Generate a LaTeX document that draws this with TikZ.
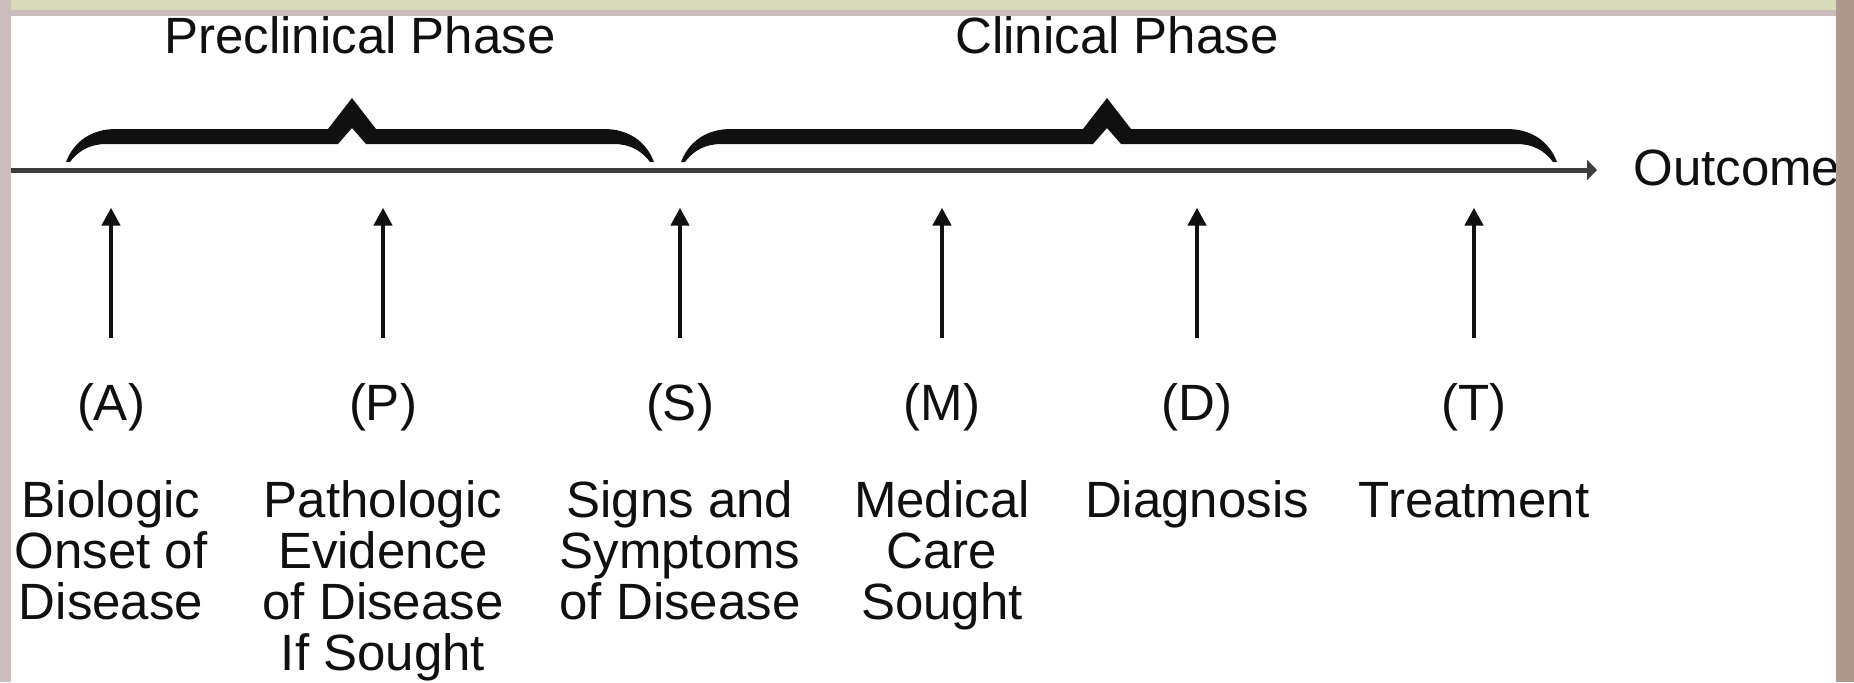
\documentclass[tikz,border=0pt]{standalone}
\usepackage{fontspec}
\setmainfont{Liberation Sans}
\usepackage{tikz}
\usepackage{xcolor}
\usetikzlibrary{arrows.meta}
\definecolor{ink}{HTML}{101010}
\definecolor{axisgray}{HTML}{3C3C3C}
\definecolor{topband}{HTML}{D8DBBA}
\definecolor{marble}{HTML}{CBBDBE}
\definecolor{marbledark}{HTML}{AE9A8C}
\newcommand{\bigfont}{\fontsize{25.5}{25.5}\selectfont}
% left end, tip, right end of a phase brace (x in px)
\newcommand{\phasebrace}[3]{%
  \fill[phasebrace] (#1,162) .. controls ({#1+8},141) and ({#1+26},129) .. ({#1+50},129)
    -- ({#2-24},129) -- (#2,98) -- ({#2+24},129)
    -- ({#3-50},129) .. controls ({#3-26},129) and ({#3-8},141) .. (#3,162)
    -- ({#3-4},162) .. controls ({#3-12},151) and ({#3-24},144) .. ({#3-40},144)
    -- ({#2+14},144) -- (#2,128) -- ({#2-14},144)
    -- ({#1+40},144) .. controls ({#1+24},144) and ({#1+12},151) .. ({#1+4},162) -- cycle;}
\tikzset{
  phasetext/.style={anchor=base, inner sep=0pt, font=\bigfont, text=ink},
  markletter/.style={anchor=base, inner sep=0pt, font=\bigfont, text=ink},
  eventtext/.style={anchor=base, inner sep=0pt, font=\bigfont, text=ink, align=center},
  phasebrace/.style={fill=ink, draw=none},
  axisline/.style={-{Triangle[length=5pt,width=10pt]}, line width=2.5pt, draw=axisgray},
  uparrow/.style={-{Triangle[length=9pt,width=9pt]}, line width=2.4pt, draw=ink}
}
\begin{document}
\begin{tikzpicture}[x=0.5pt,y=-0.5pt]
  \useasboundingbox (0,0) rectangle (1854,682);
  \fill[white] (0,0) rectangle (1854,682);
  % time axis
  \coordinate (start) at (0,170);
  \coordinate (tip) at (1597,170);
  \draw[axisline] (start) -- (tip);
  \node[phasetext, anchor=base west] (outcome) at (1633,185) {Outcome};
  % phases
  \phasebrace{66}{352}{654}
  \phasebrace{681}{1107}{1557}
  \node[phasetext] (pre) at (360,53) {Preclinical Phase};
  \node[phasetext] (clin) at (1117,53) {Clinical Phase};
  % stages along the axis
  \node[markletter] (A) at (111,420) {(A)};
  \node[markletter] (P) at (383,420) {(P)};
  \node[markletter] (S) at (680,420) {(S)};
  \node[markletter] (M) at (942,420) {(M)};
  \node[markletter] (D) at (1197,420) {(D)};
  \node[markletter] (T) at (1474,420) {(T)};
  \draw[uparrow] ([yshift=22.5pt]A.north) -- ++(0,-130);
  \draw[uparrow] ([yshift=22.5pt]P.north) -- ++(0,-130);
  \draw[uparrow] ([yshift=22.5pt]S.north) -- ++(0,-130);
  \draw[uparrow] ([yshift=22.5pt]M.north) -- ++(0,-130);
  \draw[uparrow] ([yshift=22.5pt]D.north) -- ++(0,-130);
  \draw[uparrow] ([yshift=22.5pt]T.north) -- ++(0,-130);
  % base of a stacked label is its last line
  \node[eventtext] (onset) at (111,619) {Biologic\\Onset of\\Disease};
  \node[eventtext] (patho) at (383,670) {Pathologic\\Evidence\\of Disease\\If Sought};
  \node[eventtext] (signs) at (680,619) {Signs and\\Symptoms\\of Disease};
  \node[eventtext] (care) at (942,619) {Medical\\Care\\Sought};
  \node[eventtext] (diag) at (1197,517) {Diagnosis};
  \node[eventtext] (treat) at (1474,517) {Treatment};
  % frame round the picture
  \fill[topband] (0,0) rectangle (1854,10);
  \fill[marble] (0,10) rectangle (1854,16);
  \fill[marble] (0,0) rectangle (11,682);
  \fill[marbledark] (1836,0) rectangle (1854,682);
\end{tikzpicture}
\end{document}
